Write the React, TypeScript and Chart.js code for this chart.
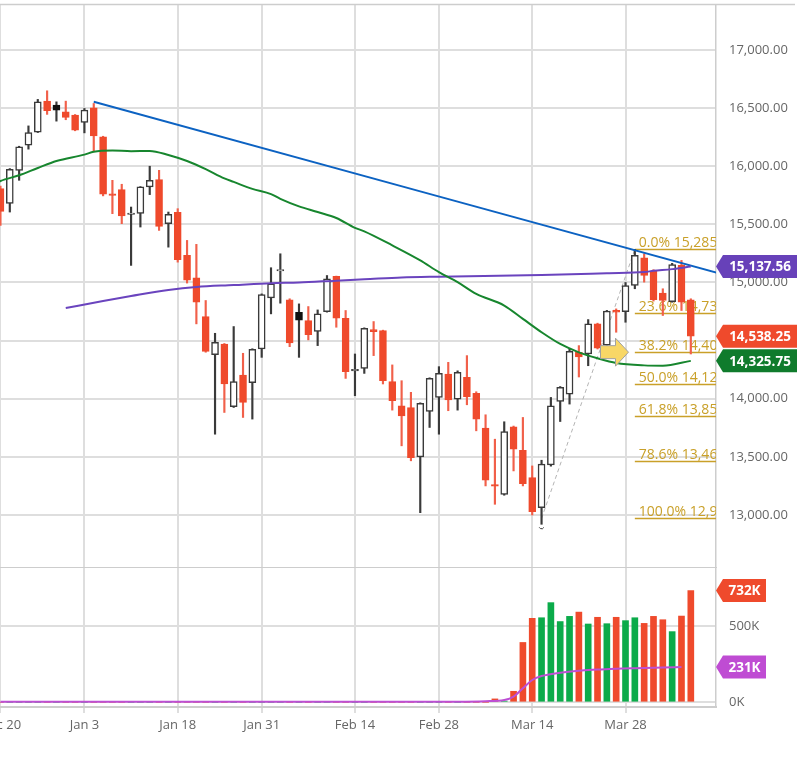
import { useEffect, useRef } from 'react'
import { Chart, registerables } from 'chart.js'

Chart.register(...registerables)
Chart.defaults.font.family = "'Open Sans', sans-serif"
Chart.defaults.font.size = 13
Chart.defaults.color = '#666'

// trading days shown on the chart
const dates = [
  'Dec 20', 'Dec 21', 'Dec 22', 'Dec 23', 'Dec 27', 'Dec 28', 'Dec 29', 'Dec 30', 'Dec 31',
  'Jan 3', 'Jan 4', 'Jan 5', 'Jan 6', 'Jan 7', 'Jan 10', 'Jan 11', 'Jan 12', 'Jan 13', 'Jan 14',
  'Jan 18', 'Jan 19', 'Jan 20', 'Jan 21', 'Jan 24', 'Jan 25', 'Jan 26', 'Jan 27', 'Jan 28',
  'Jan 31', 'Feb 1', 'Feb 2', 'Feb 3', 'Feb 4', 'Feb 7', 'Feb 8', 'Feb 9', 'Feb 10', 'Feb 11',
  'Feb 14', 'Feb 15', 'Feb 16', 'Feb 17', 'Feb 18', 'Feb 22', 'Feb 23', 'Feb 24', 'Feb 25',
  'Feb 28', 'Mar 1', 'Mar 2', 'Mar 3', 'Mar 4', 'Mar 7', 'Mar 8', 'Mar 9', 'Mar 10', 'Mar 11',
  'Mar 14', 'Mar 15', 'Mar 16', 'Mar 17', 'Mar 18', 'Mar 21', 'Mar 22', 'Mar 23', 'Mar 24', 'Mar 25',
  'Mar 28', 'Mar 29', 'Mar 30', 'Mar 31', 'Apr 1', 'Apr 4', 'Apr 5', 'Apr 6',
]
const axisDates = ['Dec 20', 'Jan 3', 'Jan 18', 'Jan 31', 'Feb 14', 'Feb 28', 'Mar 14', 'Mar 28']

const opens = [
  15808, 15681, 15963, 16181, 16293, 16560, 16526, 16468, 16440,
  16377, 16503, 16253, 15762, 15799, 15585, 15595, 15822, 15885, 15506,
  15603, 15233, 15040, 14707, 14379, 14471, 13931, 14204, 14138,
  14428, 14868, 15100, 14851, 14744, 14672, 14580, 14750, 15052, 14692,
  14240, 14261, 14595, 14586, 14147, 13940, 13925, 13500, 13891,
  14011, 14213, 13997, 14184, 14046, 13747, 13262, 13178, 13759, 13557,
  13322, 13063, 13431, 13977, 14040, 14399, 14385, 14644, 14460, 14760,
  14750, 14974, 15213, 15097, 14908, 14836, 15147, 14851,
]
const highs = [
  15830, 15980, 16172, 16347, 16575, 16649, 16554, 16560, 16445,
  16497, 16540, 16258, 15879, 15845, 15649, 15825, 16000, 15965, 15606,
  15635, 15362, 15328, 14845, 14563, 14475, 14621, 14391, 14430,
  14902, 15127, 15247, 14860, 14816, 14793, 14764, 15060, 15055, 14759,
  14385, 14610, 14664, 14590, 14291, 14155, 14055, 13965, 14180,
  14276, 14313, 14240, 14371, 14060, 13862, 13652, 13802, 13765, 13839,
  13422, 13471, 14011, 14105, 14428, 14457, 14681, 14650, 14760, 14773,
  15000, 15285, 15247, 15110, 14946, 15165, 15190, 14860,
]
const lows = [
  15491, 15606, 15879, 16147, 16290, 16446, 16388, 16400, 16305,
  16287, 16129, 15745, 15592, 15506, 15147, 15477, 15756, 15448, 15304,
  15175, 14995, 14644, 14400, 13695, 13882, 13925, 13839, 13825,
  14356, 14730, 14822, 14448, 14356, 14506, 14457, 14745, 14615, 14175,
  14026, 14218, 14371, 14127, 13902, 13595, 13466, 13020, 13753,
  13695, 13897, 13902, 13948, 13724, 13250, 13092, 13170, 13379, 13250,
  13000, 12920, 13420, 13804, 13954, 14187, 14284, 14428, 14450, 14572,
  14658, 14946, 15003, 14840, 14716, 14830, 14759, 14385,
]
const closes = [
  15612, 15974, 16167, 16290, 16554, 16477, 16483, 16420, 16310,
  16483, 16261, 15760, 15748, 15572, 15598, 15822, 15879, 15483, 15586,
  15196, 15020, 14830, 14408, 14486, 14127, 14147, 13968, 14425,
  14897, 14989, 15112, 14480, 14675, 14552, 14730, 15031, 14692, 14233,
  14254, 14606, 14578, 14155, 13983, 13853, 13494, 13960, 14175,
  14218, 13989, 14227, 14017, 13825, 13299, 13248, 13718, 13566, 13270,
  13029, 13437, 13940, 14098, 14408, 14360, 14644, 14435, 14755, 14745,
  14974, 15233, 15060, 14853, 14845, 15155, 14830, 14538.25,
]
// volume in thousands
const volume = [
  0, 0, 0, 0, 0, 0, 0, 0, 0,
  0, 0, 0, 0, 0, 0, 0, 0, 0, 0,
  0, 0, 0, 0, 0, 0, 0, 0, 0,
  0, 0, 0, 0, 0, 0, 0, 0, 0, 0,
  0, 0, 0, 0, 0, 0, 0, 0, 0,
  0, 0, 0, 0, 0, 0, 22, 8, 72, 392,
  550, 554, 653, 529, 563, 591, 513, 557, 515, 557,
  535, 554, 517, 563, 541, 463, 565, 732,
]

// moving averages, read at day positions
const ma50At = [-1, 0, 2, 4, 6, 9, 10, 12, 14, 16, 18, 20, 22, 24, 25, 27, 29, 30, 32, 34, 36, 38, 39, 42, 45, 47, 49, 51, 54, 56, 58, 60, 62, 64, 66, 69, 71, 74]
const ma50 = [15830, 15873, 15922, 15985, 16045, 16100, 16125, 16135, 16130, 16132, 16097, 16045, 15975, 15895, 15865, 15805, 15760, 15720, 15655, 15606, 15555, 15470, 15440, 15319, 15190, 15089, 15003, 14902, 14802, 14687, 14572, 14471, 14399, 14348, 14308, 14287, 14284, 14325.75]
const ma200At = [7, 11, 14, 18, 21, 25, 29, 32, 36, 39, 43, 47, 58, 65, 69, 70, 72, 74]
const ma200 = [14780, 14840, 14883, 14936, 14962, 14978, 14994, 15000, 15016, 15027, 15043, 15050, 15064, 15080, 15090, 15100, 15115, 15137.56]
const volAvgAt = [0, 29, 49, 52, 54, 55, 56, 57, 58, 60, 62, 64, 66, 69, 71, 73]
const volAvg = [3, 3, 4, 7, 15, 37, 92, 146, 172, 194, 207, 214, 220, 224, 228, 231]
const trendAt = [10, 77]
const trend = [16554, 15080]

const priceTicks = [13000, 13500, 14000, 14500, 15000, 15500, 16000, 16500, 17000]
const volumeTicks = [0, 500]
const fibLevels = [0, 23.6, 38.2, 50, 61.8, 78.6, 100]
const fibHigh = 15285
const fibLow = 12970
const fibFrom = 'Mar 15'
const fibTo = 'Mar 29'
const arrowDay = 'Mar 28'
const arrowLevel = 38.2

const RED = '#ef4a2c'
const RED_WICK = '#f1604a'
const DARK = '#3a3a3a'
const GREEN_VOL = '#0bab4a'
const MA50_C = '#17862e'
const MA200_C = '#6a44be'
const TREND_C = '#0c62c2'
const VOLAVG_C = '#bd4fd4'
const GOLD = '#c9a029'
const GRID = '#dedede'
const AXIS = '#cdcdcd'

const X_MIN = -0.05
const X_MAX = 76.7
const AXIS_W = 93

const fmt = (v: number) => v.toLocaleString('en-US', { minimumFractionDigits: 2, maximumFractionDigits: 2 })
const isUp = (i: number) => closes[i] >= (i ? closes[i - 1] : opens[i])
const tickPos = axisDates.map((d) => dates.indexOf(d))
const days = dates.map((_, i) => i)

function drawTag(ctx: CanvasRenderingContext2D, x: number, y: number, w: number, color: string, text: string) {
  const h = 23
  ctx.save()
  ctx.fillStyle = color
  ctx.beginPath()
  ctx.moveTo(x, y)
  ctx.lineTo(x + 7, y - h / 2)
  ctx.lineTo(x + w, y - h / 2)
  ctx.lineTo(x + w, y + h / 2)
  ctx.lineTo(x + 7, y + h / 2)
  ctx.closePath()
  ctx.fill()
  ctx.fillStyle = '#fff'
  ctx.font = "bold 13.5px 'Open Sans'"
  ctx.textAlign = 'center'
  ctx.textBaseline = 'middle'
  ctx.fillText(text, x + 7 + (w - 7) / 2, y + 1)
  ctx.restore()
}

const noPad = (s: any) => {
  s.paddingLeft = 0
  s.paddingRight = 0
  s.paddingTop = 0
  s.paddingBottom = 0
}

const priceExtras = {
  id: 'priceExtras',
  beforeDatasetsDraw(chart: any) {
    const { ctx, chartArea: a, scales } = chart
    const { x, y } = scales
    const x0 = x.getPixelForValue(dates.indexOf(fibTo))
    ctx.save()
    ctx.beginPath()
    ctx.rect(a.left, a.top, a.right - a.left, a.bottom - a.top)
    ctx.clip()
    ctx.strokeStyle = GOLD
    ctx.fillStyle = GOLD
    ctx.lineWidth = 1.5
    ctx.font = "14px 'Open Sans'"
    fibLevels.forEach((l) => {
      const v = fibHigh - ((fibHigh - fibLow) * l) / 100
      const py = Math.round(y.getPixelForValue(v)) + 0.5
      ctx.beginPath()
      ctx.moveTo(x0, py)
      ctx.lineTo(a.right, py)
      ctx.stroke()
      ctx.fillText(`${l.toFixed(1)}% ${fmt(v)}`, x0 + 4, py - 3)
    })
    ctx.setLineDash([4, 3])
    ctx.strokeStyle = '#b4b4b4'
    ctx.lineWidth = 1
    ctx.beginPath()
    ctx.moveTo(x.getPixelForValue(dates.indexOf(fibFrom)), y.getPixelForValue(fibLow))
    ctx.lineTo(x0, y.getPixelForValue(fibHigh))
    ctx.stroke()
    ctx.restore()
  },
  afterDatasetsDraw(chart: any) {
    const { ctx, scales } = chart
    const { x, y } = scales
    // arrow at the 38.2% level
    const tx = x.getPixelForValue(dates.indexOf(arrowDay)) + 3
    const ty = y.getPixelForValue(fibHigh - ((fibHigh - fibLow) * arrowLevel) / 100)
    ctx.save()
    ctx.beginPath()
    ctx.moveTo(tx - 28, ty - 6.5)
    ctx.lineTo(tx - 13, ty - 6.5)
    ctx.lineTo(tx - 13, ty - 14)
    ctx.lineTo(tx, ty)
    ctx.lineTo(tx - 13, ty + 14)
    ctx.lineTo(tx - 13, ty + 6.5)
    ctx.lineTo(tx - 28, ty + 6.5)
    ctx.closePath()
    ctx.fillStyle = '#f8d766'
    ctx.fill()
    ctx.strokeStyle = '#a0a0a0'
    ctx.lineWidth = 1
    ctx.stroke()
    // swing low marker
    const li = dates.indexOf(fibFrom)
    ctx.beginPath()
    ctx.arc(x.getPixelForValue(li), y.getPixelForValue(lows[li]) + 2, 2.5, 0.15 * Math.PI, 0.85 * Math.PI)
    ctx.strokeStyle = '#333'
    ctx.stroke()
    ctx.restore()
  },
  afterDraw(chart: any) {
    const { ctx, chartArea: a } = chart
    ctx.save()
    ctx.strokeStyle = AXIS
    ctx.lineWidth = 1.5
    ctx.beginPath()
    ctx.moveTo(0, a.top - 0.5)
    ctx.lineTo(a.right + 79, a.top - 0.5)
    ctx.stroke()
    ctx.restore()
    const y = chart.scales.y
    drawTag(ctx, a.right, y.getPixelForValue(ma200[ma200.length - 1]), 81, '#6741b9', fmt(ma200[ma200.length - 1]))
    drawTag(ctx, a.right, y.getPixelForValue(closes[closes.length - 1]), 81, RED, fmt(closes[closes.length - 1]))
    drawTag(ctx, a.right, y.getPixelForValue(ma50[ma50.length - 1]), 81, '#0f7b2c', fmt(ma50[ma50.length - 1]))
  },
}

const volumeExtras = {
  id: 'volumeExtras',
  afterDraw(chart: any) {
    const { ctx, chartArea: a } = chart
    const y = chart.scales.y
    const lastVol = volume[volume.length - 1]
    const lastAvg = volAvg[volAvg.length - 1]
    drawTag(ctx, a.right, y.getPixelForValue(lastVol), 50, RED, `${Math.round(lastVol)}K`)
    drawTag(ctx, a.right, y.getPixelForValue(lastAvg), 50, '#bf4cd3', `${Math.round(lastAvg)}K`)
  },
}

const lineSet = (at: number[], vals: number[], color: string) => ({
  type: 'line' as const,
  data: at.map((p, i) => ({ x: p, y: vals[i] })),
  borderColor: color,
  borderWidth: 2,
  pointRadius: 0,
  fill: false,
  cubicInterpolationMode: 'monotone' as const,
  order: 0,
})

export default function App() {
  const priceRef = useRef<HTMLCanvasElement | null>(null)
  const volRef = useRef<HTMLCanvasElement | null>(null)

  useEffect(() => {
    const price = new Chart(priceRef.current!, {
      type: 'bar',
      data: {
        datasets: [
          lineSet(ma50At, ma50, MA50_C),
          lineSet(ma200At, ma200, MA200_C),
          lineSet(trendAt, trend, TREND_C),
          {
            type: 'bar',
            data: days.map((i) => ({ x: i, y: [opens[i], closes[i]] })),
            barThickness: 7,
            grouped: false,
            borderWidth: 1.5,
            borderSkipped: false,
            backgroundColor: (c: any) => {
              const i = c.dataIndex
              if (closes[i] >= opens[i]) return '#ffffff'
              return isUp(i) ? '#111111' : RED
            },
            borderColor: (c: any) => {
              const i = c.dataIndex
              if (!isUp(i)) return RED
              return closes[i] >= opens[i] ? DARK : '#111111'
            },
            order: 1,
          },
          {
            type: 'bar',
            data: days.map((i) => ({ x: i, y: [lows[i], highs[i]] })),
            barThickness: 1.5,
            grouped: false,
            backgroundColor: (c: any) => (isUp(c.dataIndex) ? DARK : RED_WICK),
            order: 2,
          },
        ] as any,
      },
      options: {
        animation: false,
        responsive: true,
        maintainAspectRatio: false,
        events: [],
        layout: { padding: { top: 5, left: 0, right: 0, bottom: 0 } },
        plugins: { legend: { display: false }, tooltip: { enabled: false } },
        scales: {
          x: {
            type: 'linear',
            min: X_MIN,
            max: X_MAX,
            bounds: 'data',
            offset: false,
            afterBuildTicks: (s: any) => {
              s.ticks = tickPos.map((v) => ({ value: v }))
            },
            afterFit: (s: any) => {
              s.height = 0
              noPad(s)
            },
            ticks: { display: false },
            grid: { color: GRID, lineWidth: 2, drawTicks: false, offset: false },
            border: { display: true, color: AXIS, width: 2 },
          },
          y: {
            type: 'linear',
            position: 'right',
            min: 12544,
            max: 17387,
            bounds: 'data',
            afterBuildTicks: (s: any) => {
              s.ticks = priceTicks.map((v) => ({ value: v }))
            },
            afterFit: (s: any) => {
              s.width = AXIS_W
              noPad(s)
            },
            ticks: { callback: (v: any) => fmt(Number(v)), padding: 13, color: '#666' },
            grid: { color: GRID, lineWidth: 2, drawTicks: false },
            border: { display: true, color: AXIS, width: 1.5 },
          },
        },
      } as any,
      plugins: [priceExtras],
    })

    const vol = new Chart(volRef.current!, {
      type: 'bar',
      data: {
        datasets: [
          { ...lineSet(volAvgAt, volAvg, VOLAVG_C) },
          {
            type: 'bar',
            data: days.map((i) => ({ x: i, y: volume[i] })),
            barThickness: 6,
            grouped: false,
            backgroundColor: (c: any) => (isUp(c.dataIndex) ? GREEN_VOL : RED),
            order: 1,
          },
        ] as any,
      },
      options: {
        animation: false,
        responsive: true,
        maintainAspectRatio: false,
        events: [],
        layout: { padding: 0 },
        plugins: { legend: { display: false }, tooltip: { enabled: false } },
        scales: {
          x: {
            type: 'linear',
            min: X_MIN,
            max: X_MAX,
            bounds: 'data',
            offset: false,
            afterBuildTicks: (s: any) => {
              s.ticks = tickPos.map((v) => ({ value: v }))
            },
            afterFit: (s: any) => {
              s.height = 51
              noPad(s)
            },
            ticks: {
              callback: (v: any) => dates[Number(v)] ?? '',
              autoSkip: false,
              maxRotation: 0,
              padding: 4,
              color: '#666',
            },
            grid: { color: GRID, lineWidth: 2, drawTicks: true, tickLength: 6, offset: false },
            border: { display: true, color: AXIS, width: 2 },
          },
          y: {
            type: 'linear',
            position: 'right',
            min: -31,
            max: 880,
            bounds: 'data',
            afterBuildTicks: (s: any) => {
              s.ticks = volumeTicks.map((v) => ({ value: v }))
            },
            afterFit: (s: any) => {
              s.width = AXIS_W
              noPad(s)
            },
            ticks: { callback: (v: any) => `${v}K`, padding: 13, color: '#666' },
            grid: { color: GRID, lineWidth: 2, drawTicks: false },
            border: { display: true, color: AXIS, width: 1.5 },
          },
        },
      } as any,
      plugins: [volumeExtras],
    })

    return () => {
      price.destroy()
      vol.destroy()
    }
  }, [])

  return (
    <div style={{ position: 'absolute', left: 0, top: 0, width: 809, height: 758, background: '#fff' }}>
      <div style={{ position: 'relative', width: 809, height: 568 }}>
        <canvas ref={priceRef} />
      </div>
      <div style={{ position: 'relative', width: 809, height: 190 }}>
        <canvas ref={volRef} />
      </div>
    </div>
  )
}
